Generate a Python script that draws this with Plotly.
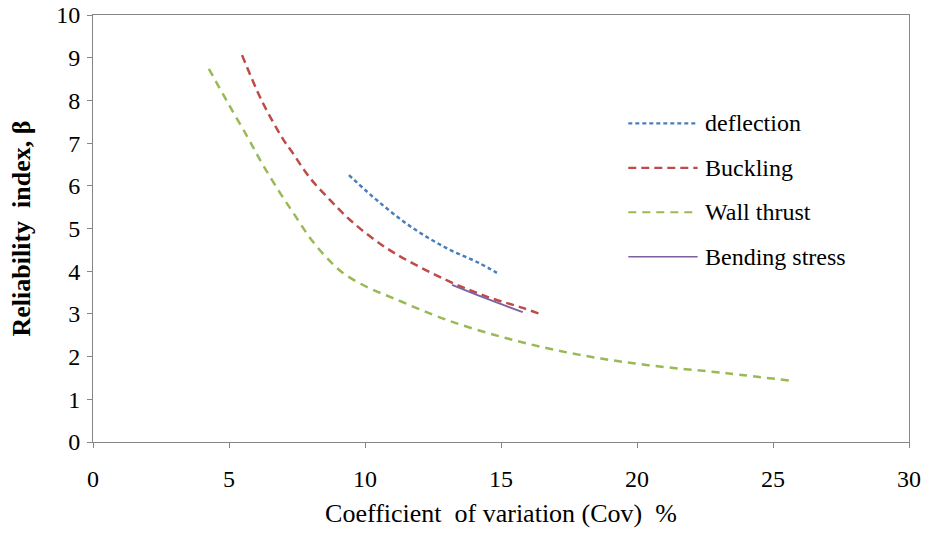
import plotly.graph_objects as go

# Reliability index versus coefficient of variation, per limit state
deflection_cov = [9.41, 10.55, 11.76, 13.0, 14.2, 14.85]
deflection_beta = [6.25, 5.6, 5.01, 4.54, 4.19, 3.96]

buckling_cov = [5.48, 6.2, 6.98, 7.32, 7.98, 8.71, 9.45, 10.3, 11.2, 13.0, 14.5, 15.8, 16.43]
buckling_beta = [9.06, 8.0, 7.1, 6.79, 6.18, 5.67, 5.2, 4.76, 4.38, 3.79, 3.4, 3.14, 3.0]

wall_cov = [4.26, 4.96, 5.7, 6.21, 6.88, 7.4, 7.98, 8.6, 9.19, 10.07, 11.03, 13.0, 15.44, 17.9, 20.4, 23.3, 25.7]
wall_beta = [8.74, 7.94, 7.12, 6.53, 5.83, 5.33, 4.78, 4.31, 3.96, 3.63, 3.37, 2.86, 2.39, 2.04, 1.80, 1.61, 1.43]

bending_cov = [13.2, 14.5, 15.8]
bending_beta = [3.68, 3.35, 3.04]

series_names = ["deflection", "Buckling", "Wall thrust", "Bending stress"]
x_ticks = [0, 5, 10, 15, 20, 25, 30]
y_ticks = [0, 1, 2, 3, 4, 5, 6, 7, 8, 9, 10]

FONT = "Liberation Serif"
styles = [
    dict(color="#4A7EBB", width=2.5, dash="4px,3px"),
    dict(color="#BE4B48", width=2.5, dash="8px,5px"),
    dict(color="#98B954", width=2.5, dash="8px,6px"),
    dict(color="#7D60A0", width=1.8, dash="solid"),
]
data = [
    (deflection_cov, deflection_beta),
    (buckling_cov, buckling_beta),
    (wall_cov, wall_beta),
    (bending_cov, bending_beta),
]

fig = go.Figure()
for name, (xs, ys), st in zip(series_names, data, styles):
    fig.add_trace(go.Scatter(
        x=xs, y=ys, name=name, mode="lines",
        line=dict(shape="spline", smoothing=1.0, **st),
        showlegend=False,
    ))

# Legend drawn as line samples with labels, placed inside the plot area
legend_top = 0.746
legend_step = 0.104
for i, (name, st) in enumerate(zip(series_names, styles)):
    yp = legend_top - i * legend_step
    fig.add_shape(type="line", xref="paper", yref="paper",
                  x0=0.656, x1=0.741, y0=yp, y1=yp,
                  line=dict(color=st["color"], width=st["width"] - 0.3, dash=st["dash"]))
    fig.add_annotation(xref="paper", yref="paper", x=0.748, y=yp,
                       text=name, showarrow=False, xanchor="left", yanchor="middle",
                       font=dict(family=FONT, size=24, color="#000000"))

axis_common = dict(
    showline=True, linecolor="#868686", linewidth=1, mirror=True,
    showgrid=False, zeroline=False,
    ticks="outside", ticklen=5, tickcolor="#868686", tickwidth=1,
    tickfont=dict(family=FONT, size=24, color="#000000"),
)

fig.update_layout(
    width=930, height=536,
    margin=dict(l=93, r=21, t=15, b=94),
    paper_bgcolor="white", plot_bgcolor="white",
    xaxis=dict(range=[0, 30], tickvals=x_ticks, ticklabelstandoff=10, automargin="bottom",
               title=dict(text="Coefficient\u00a0 of variation (Cov)\u00a0 %",
                          font=dict(family=FONT, size=26, color="#000000"), standoff=13),
               **axis_common),
    yaxis=dict(range=[0, 10], tickvals=y_ticks, ticklabelstandoff=2, automargin="left",
               title=dict(text="<b>Reliability\u00a0 index, \u03b2</b>",
                          font=dict(family=FONT, size=26, color="#000000"), standoff=18),
               **axis_common),
)

fig.write_html("out.html")
